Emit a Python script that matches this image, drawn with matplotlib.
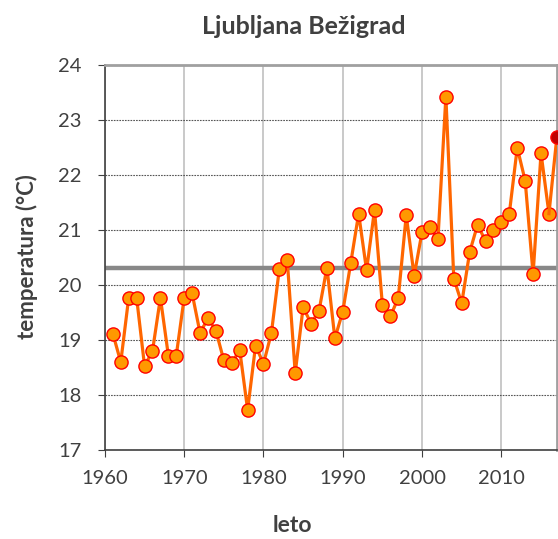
import matplotlib.pyplot as plt

plt.rcParams['font.family'] = ['Lato', 'DejaVu Sans']
plt.rcParams['text.color'] = '#404040'

# letne vrednosti
leta = list(range(1961, 2018))
temperatura = [19.12, 18.60, 19.77, 19.77, 18.53, 18.80, 19.77, 18.72, 18.72, 19.77,
               19.85, 19.13, 19.40, 19.17, 18.63, 18.58, 18.82, 17.73, 18.90, 18.57,
               19.13, 20.30, 20.45, 18.40, 19.60, 19.30, 19.53, 20.32, 19.03, 19.52,
               20.40, 21.30, 20.27, 21.37, 19.63, 19.43, 19.77, 21.27, 20.17, 20.97,
               21.05, 20.83, 23.43, 20.12, 19.67, 20.60, 21.10, 20.80, 21.00, 21.15,
               21.30, 22.50, 21.90, 20.20, 22.40, 21.30, 22.70]
povprecje = 20.32

fig = plt.figure(figsize=(5.58, 5.39), dpi=100)
ax = fig.add_axes([0.188, 0.165, 0.81, 0.714])

ax.axhline(povprecje, color='#888888', lw=3.2, zorder=2)
ax.plot(leta[:-1], temperatura[:-1], color='#FF6600', lw=2.3, marker='o',
        ms=9.5, mfc='#FF9900', mec='#FF0000', mew=1.0, zorder=3)
ax.plot(leta[-2:], temperatura[-2:], color='#FF6600', lw=2.3, zorder=3)
ax.plot(leta[-1], temperatura[-1], marker='o', ms=9.5, mfc='#C00000',
        mec='#FF0000', mew=1.0, zorder=4)

ax.set_xlim(1960, 2017)
ax.set_ylim(17, 24)
ax.set_xticks([1960, 1970, 1980, 1990, 2000, 2010])
ax.set_yticks(range(17, 25))

ax.yaxis.grid(True, color='#555555', ls=(0, (1.5, 1)), lw=0.8)
ax.xaxis.grid(True, color='#C0C0C0', ls='-', lw=1.2)
ax.set_axisbelow(True)

for s in ['left', 'bottom']:
    ax.spines[s].set_color('#404040')
    ax.spines[s].set_linewidth(1.2)
for s in ['top', 'right']:
    ax.spines[s].set_color('#A0A0A0')
    ax.spines[s].set_linewidth(2)

ax.tick_params(labelsize=14.5, length=5, color='#404040', labelcolor='#404040')
ax.tick_params(axis='y', pad=12)
ax.tick_params(axis='x', pad=9)

fig.text(304 / 558, 1 - 27 / 539, 'Ljubljana Bežigrad', fontsize=18,
         fontweight='bold', ha='center', va='center')
fig.text(27 / 558, 1 - 257 / 539, 'temperatura (°C)', fontsize=16,
         fontweight='bold', ha='center', va='center', rotation=90)
fig.text(292 / 558, 1 - 525 / 539, 'leto', fontsize=16.5,
         fontweight='bold', ha='center', va='center')

fig.savefig('out.png', dpi=100)
